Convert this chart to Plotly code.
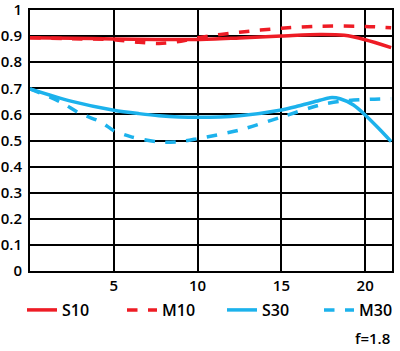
import plotly.graph_objects as go

# Data
x_s10 = [0, 2.5, 5, 7.5, 10, 12.5, 15, 17.3, 18.75, 20, 21.55]
y_s10 = [0.894, 0.892, 0.889, 0.887, 0.887, 0.893, 0.900, 0.906, 0.903, 0.886, 0.856]

x_m10 = [0, 2.5, 5, 6.5, 7.7, 9, 10.1, 12.5, 15, 17.3, 20, 21.55]
y_m10 = [0.894, 0.89, 0.886, 0.876, 0.872, 0.880, 0.895, 0.915, 0.930, 0.938, 0.937, 0.932]

x_s30 = [0, 2.5, 5, 6.5, 7.7, 10, 12.5, 15, 16, 17.3, 17.9, 18.5, 19.3, 20, 20.8, 21.55]
y_s30 = [0.698, 0.65, 0.616, 0.603, 0.595, 0.589, 0.595, 0.617, 0.632, 0.654, 0.664, 0.66, 0.636, 0.598, 0.547, 0.496]

x_m30 = [0, 1.8, 3, 4.2, 5, 6, 7.7, 9, 10, 12.5, 15, 17.3, 18.5, 20, 21.55]
y_m30 = [0.698, 0.648, 0.603, 0.572, 0.538, 0.515, 0.494, 0.496, 0.507, 0.540, 0.590, 0.636, 0.650, 0.657, 0.660]

x_ticks = [5, 10, 15, 20]
y_ticks = [0, 0.1, 0.2, 0.3, 0.4, 0.5, 0.6, 0.7, 0.8, 0.9, 1]
y_tick_labels = ["0", "0.1", "0.2", "0.3", "0.4", "0.5", "0.6", "0.7", "0.8", "0.9", "1"]

RED = "#ee1c25"
BLUE = "#1cb2ec"
FONT = "Open Sans"

fig = go.Figure()
series = [
    ("S10", x_s10, y_s10, RED, "solid", "legend"),
    ("M10", x_m10, y_m10, RED, "dash", "legend2"),
    ("S30", x_s30, y_s30, BLUE, "solid", "legend3"),
    ("M30", x_m30, y_m30, BLUE, "dash", "legend4"),
]
for name, xs, ys, col, dash, lg in series:
    fig.add_trace(go.Scatter(
        x=xs, y=ys, name=name, mode="lines", legend=lg,
        line=dict(color=col, width=3.5, dash=dash, shape="spline", smoothing=0.8),
    ))

def legend_cfg(xc):
    return dict(
        xref="container", yref="container", x=xc, y=0.1168,
        xanchor="left", yanchor="middle", orientation="h",
        bgcolor="rgba(0,0,0,0)",
        font=dict(family=FONT, size=16, color="black", weight=600),
    )

fig.update_layout(
    width=400, height=351,
    margin=dict(l=30, r=8, t=10, b=80, autoexpand=False),
    plot_bgcolor="white", paper_bgcolor="white",
    font=dict(family=FONT, size=14, color="black"),
    showlegend=True,
    legend=legend_cfg(0.055),
    legend2=legend_cfg(0.305),
    legend3=legend_cfg(0.555),
    legend4=legend_cfg(0.7975),
    annotations=[dict(
        text="f=1.8", xref="paper", yref="paper", x=1.0, y=-0.257,
        xanchor="right", yanchor="middle", showarrow=False,
        font=dict(family=FONT, size=15, color="black", weight=600),
    )],
)
fig.update_xaxes(
    range=[0, 21.6], tickvals=x_ticks, ticktext=[str(v) for v in x_ticks],
    showgrid=True, gridcolor="black", gridwidth=2,
    showline=True, linecolor="black", linewidth=2, mirror=True,
    zeroline=False, ticks="", ticklabeloverflow="allow", automargin=False,
    tickfont=dict(family=FONT, size=15, color="black", weight=600),
)
fig.update_yaxes(
    range=[0, 1], tickvals=y_ticks, ticktext=y_tick_labels,
    showgrid=True, gridcolor="black", gridwidth=2,
    showline=True, linecolor="black", linewidth=2, mirror=True,
    zeroline=False, ticks="", ticklabelstandoff=3, ticklabeloverflow="allow",
    automargin=False,
    tickfont=dict(family=FONT, size=15, color="black", weight=600),
)

fig.write_html("out.html")
